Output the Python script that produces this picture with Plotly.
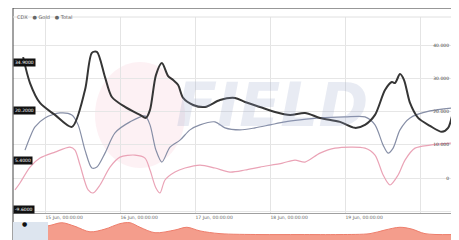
import pandas as pd
import plotly.graph_objects as go

BASE = pd.Timestamp("2018-06-15 00:00:00")

# ---- data (hours from 15 Jun 00:00, values) ----
black_hours = [-7.0, -4.8, -1.6, 3.2, 8.6, 12.8, 15.0, 16.6, 19.2, 21.4, 25.6, 30.4, 32.3, 33.6, 35.5,
               37.4, 39.4, 41.0, 42.6, 44.2, 47.4, 51.2, 56.0, 60.8, 64.0, 68.8, 73.6, 78.4, 83.2,
               88.0, 94.4, 99.2, 102.4, 105.6, 108.8, 111.0, 112.0, 113.6, 114.9, 116.8, 119.4,
               123.2, 127.0, 129.0, 130.2]
black_values = [36.4, 28.6, 22.6, 19.0, 15.4, 26.5, 37.7, 38.0, 30.4, 24.4, 21.4, 19.0, 18.1, 20.5, 31.0,
                34.6, 30.7, 29.5, 28.0, 24.1, 22.0, 21.4, 23.5, 24.1, 22.9, 21.4, 19.9, 19.0, 19.6,
                18.1, 16.9, 15.1, 16.0, 19.0, 26.5, 28.9, 28.6, 31.3, 29.5, 22.6, 18.1,
                15.7, 13.9, 15.1, 18.5]

gray_hours = [-6.4, -4.8, -3.2, 0.0, 4.8, 8.6, 10.6, 12.8, 15.0, 16.6, 19.2, 22.4, 27.2, 32.0, 33.6,
              35.5, 37.4, 40.0, 43.2, 46.4, 49.6, 54.4, 57.6, 62.4, 67.2, 72.0, 76.8, 81.6, 88.0,
              96.0, 102.4, 105.6, 108.2, 109.8, 111.4, 113.6, 116.8, 123.2, 130.2]
gray_values = [8.4, 12.3, 15.4, 18.1, 19.6, 19.0, 16.0, 8.4, 3.0, 3.3, 7.5, 13.6, 16.9, 18.7, 16.0,
               8.4, 4.8, 9.3, 11.4, 14.5, 16.0, 16.9, 15.1, 14.5, 15.1, 16.0, 16.9, 17.5, 18.1,
               18.4, 18.4, 16.0, 9.9, 7.5, 9.0, 14.5, 18.1, 20.2, 21.1]

pink_hours = [-9.6, -8.0, -4.8, -1.6, 3.2, 8.0, 9.6, 11.2, 13.8, 15.4, 17.6, 20.8, 24.0, 28.8, 32.0,
              33.6, 35.5, 36.8, 38.4, 41.6, 44.8, 49.6, 54.4, 59.2, 64.0, 68.8, 76.0, 80.0, 83.2,
              88.0, 92.8, 102.4, 105.6, 108.2, 110.4, 113.0, 115.2, 118.4, 123.2, 130.2]
pink_values = [-3.6, -1.5, 3.3, 6.0, 7.8, 9.3, 8.4, 3.9, -3.6, -4.5, -2.1, 3.3, 6.3, 6.9, 6.0,
               2.4, -3.0, -4.5, -0.6, 1.8, 3.0, 3.9, 3.0, 1.8, 2.4, 3.3, 4.5, 5.4, 4.8,
               7.5, 9.0, 9.0, 6.9, 0.9, -2.1, 0.9, 5.4, 9.0, 9.9, 10.5]

nav_hours = [-10.2, -4.8, 1.6, 5.4, 9.6, 14.4, 19.2, 24.0, 27.2, 30.4, 35.2, 41.6, 45.4, 49.6, 56.0,
             68.8, 81.6, 94.4, 104.0, 108.8, 113.6, 117.4, 121.6, 130.2]
nav_values = [8, 12, 16, 19, 15, 9, 12, 18, 19, 14, 8, 11, 14, 10, 7,
              6, 6, 6, 7, 11, 14, 12, 7, 6]

tag_values = [34.9, 20.2, 5.4, -9.6]
tag_labels = ["34.9000", "20.2000", "5.4000", "-9.6000"]

y_ticks = [-10, 0, 10, 20, 30, 40]
y_tick_labels = ["-10.000", "0", "10.000", "20.000", "30.000", "40.000"]
x_tick_days = [0, 1, 2, 3, 4, 5]
x_tick_labels = ["15 Jun, 00:00:00", "16 Jun, 00:00:00", "17 Jun, 00:00:00",
                 "18 Jun, 00:00:00", "19 Jun, 00:00:00", ""]

legend_text = "CDX   ● Gold   ● Total"


def to_time(hours):
    return [BASE + pd.Timedelta(hours=h) for h in hours]


fig = go.Figure()

fig.add_trace(go.Scatter(x=to_time(pink_hours), y=pink_values, mode="lines",
                         line=dict(color="#eaa3b6", width=1.2, shape="spline", smoothing=0.8),
                         showlegend=False, hoverinfo="skip"))
fig.add_trace(go.Scatter(x=to_time(gray_hours), y=gray_values, mode="lines",
                         line=dict(color="#868ea6", width=1.2, shape="spline", smoothing=0.8),
                         showlegend=False, hoverinfo="skip"))
fig.add_trace(go.Scatter(x=to_time(black_hours), y=black_values, mode="lines",
                         line=dict(color="#353535", width=2, shape="spline", smoothing=0.8),
                         showlegend=False, hoverinfo="skip"))
fig.add_trace(go.Scatter(x=to_time(nav_hours), y=nav_values, mode="lines", fill="tozeroy",
                         line=dict(color="#ee7e6c", width=1, shape="spline", smoothing=0.9),
                         fillcolor="rgba(242,140,120,0.85)",
                         xaxis="x2", yaxis="y2", showlegend=False, hoverinfo="skip"))

xr = [BASE + pd.Timedelta(hours=-10.24), BASE + pd.Timedelta(hours=130.24)]
tickvals = [BASE + pd.Timedelta(days=d) for d in x_tick_days]

# page body has an 8px margin: plot area spans page x 13..452, y 8..240
H = 232
main_bottom = (240 - 213) / H
main_top = (240 - 17) / H
nav_top = 20 / H

fig.update_layout(
    width=451, height=232,
    margin=dict(l=5, r=7, t=0, b=0),
    paper_bgcolor="white", plot_bgcolor="white",
    font=dict(family="DejaVu Sans", size=5, color="#555"),
    xaxis=dict(domain=[0, 1], range=xr, type="date", tickvals=tickvals, ticktext=x_tick_labels,
               ticklabelposition="outside right",
               ticks="", showgrid=True, gridcolor="#e4e4e4", gridwidth=1,
               showline=True, linecolor="#a0a0a0", linewidth=1,
               tickfont=dict(size=4.5, color="#666"), anchor="y", zeroline=False),
    yaxis=dict(domain=[main_bottom, main_top], range=[-10.54, 48.49], side="right",
               tickvals=y_ticks, ticktext=y_tick_labels, ticklabelposition="inside",
               showgrid=True, gridcolor="#e6e6e6", gridwidth=1, zeroline=False,
               tickfont=dict(size=4.5, color="#444"), anchor="x"),
    xaxis2=dict(domain=[0, 1], range=xr, type="date", anchor="y2", showticklabels=False,
                showgrid=False, zeroline=False),
    yaxis2=dict(domain=[0, nav_top], range=[0, 22], showticklabels=False, showgrid=False,
                zeroline=False, anchor="x2"),
)

# frame
fig.add_shape(type="line", xref="paper", yref="paper", x0=0, x1=1, y0=1, y1=1,
              line=dict(color="#333", width=1.2))
fig.add_shape(type="line", xref="paper", yref="paper", x0=0, x1=0, y0=0, y1=1,
              line=dict(color="#444", width=1))
fig.add_shape(type="line", xref="paper", yref="paper", x0=1, x1=1, y0=0, y1=1,
              line=dict(color="#222", width=2))
fig.add_shape(type="line", xref="paper", yref="paper", x0=0, x1=1,
              y0=main_top, y1=main_top, line=dict(color="#e0e0e0", width=1))

# navigator handle box
fig.add_shape(type="rect", xref="paper", yref="paper", x0=0, x1=35 / 439, y0=0, y1=18 / H,
              fillcolor="#dde5ef", line=dict(width=0), layer="above")
fig.add_annotation(xref="paper", yref="paper", x=7 / 439, y=11 / H, text="●", showarrow=False,
                   font=dict(size=6, color="#111"))

# watermark
fig.add_shape(type="circle", xref="paper", yref="paper",
              x0=(95 - 13) / 439, x1=(185 - 13) / 439, y0=(240 - 168) / H, y1=(240 - 62) / H,
              fillcolor="rgba(240,140,165,0.12)", line=dict(width=0), layer="below")
fig.add_annotation(xref="paper", yref="paper", x=(272 - 13) / 439, y=(240 - 105) / H,
                   text="<b><i>FIELD</i></b>", showarrow=False,
                   font=dict(size=60, color="rgba(150,165,200,0.22)", family="DejaVu Sans"))

# legend text
fig.add_annotation(xref="paper", yref="paper", x=0.005, y=(240 - 12) / H, xanchor="left",
                   text=legend_text, showarrow=False, font=dict(size=5, color="#666"))

# left value tags
for v, t in zip(tag_values, tag_labels):
    fig.add_annotation(xref="paper", yref="y", x=0, y=v, xanchor="left", text=t,
                       showarrow=False, bgcolor="#111", borderpad=1,
                       font=dict(size=4.5, color="white"))

fig.write_html("out.html")
